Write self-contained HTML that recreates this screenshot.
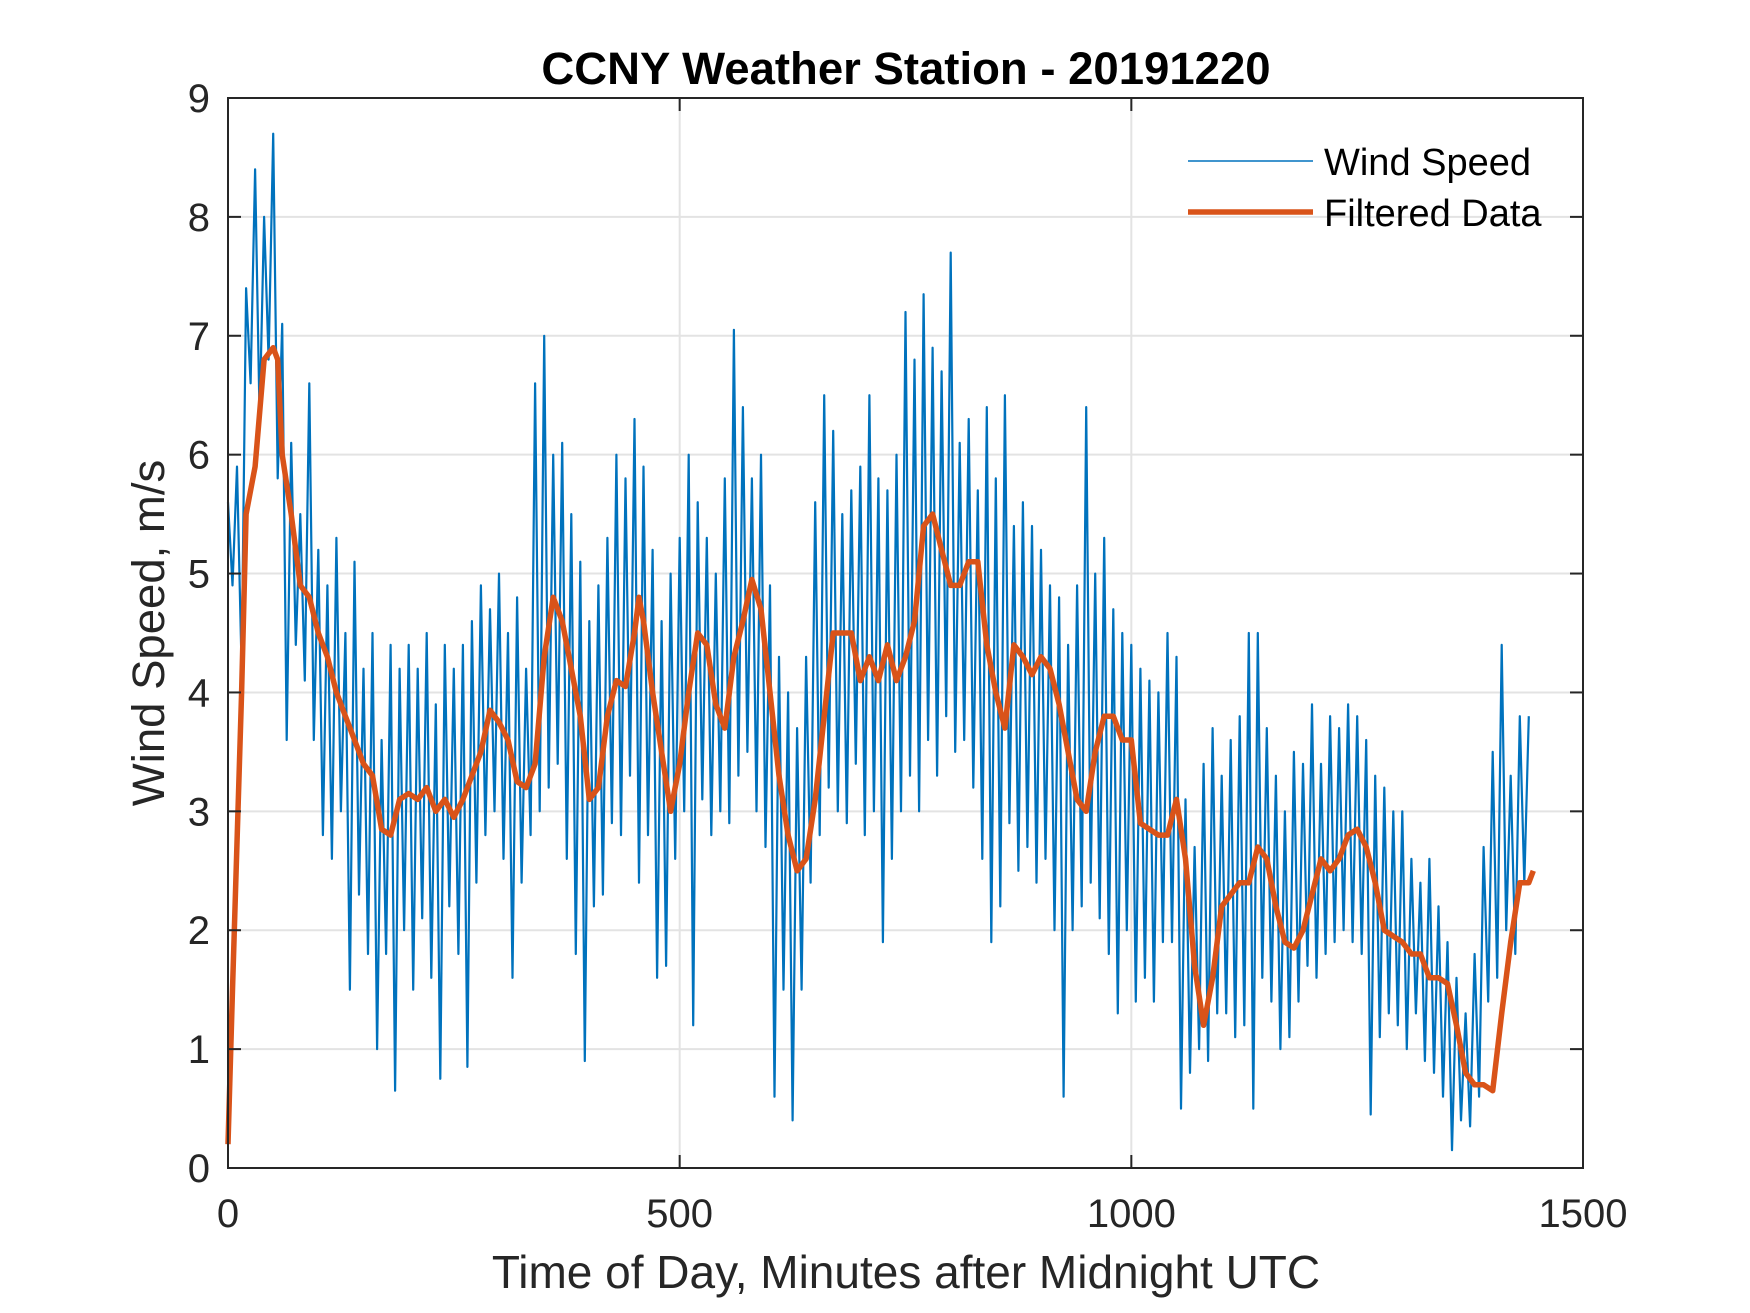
<!DOCTYPE html>
<html><head><meta charset="utf-8"><style>
html,body{margin:0;padding:0;background:#fff}
svg{display:block}
text{font-family:"Liberation Sans",Arial,sans-serif;fill:#262626}
</style></head><body>
<svg id="chart" width="1750" height="1313" viewBox="0 0 1750 1313" xmlns="http://www.w3.org/2000/svg">
<rect x="0" y="0" width="1750" height="1313" fill="#fff"/>
<g id="grid"></g>
<g id="series"></g>
<g id="axes"></g>
<text x="906" y="84" text-anchor="middle" font-size="45.5" font-weight="bold" style="fill:#000">CCNY Weather Station - 20191220</text>
<text x="906" y="1288" text-anchor="middle" font-size="46">Time of Day, Minutes after Midnight UTC</text>
<text transform="translate(164,633) rotate(-90)" text-anchor="middle" font-size="45.5">Wind Speed, m/s</text>
<g>
<line x1="1188" y1="161" x2="1313" y2="161" stroke="#0072BD" stroke-width="1.6"/>
<text x="1324" y="175" font-size="38" style="fill:#000">Wind Speed</text>
<line x1="1188" y1="212" x2="1313" y2="212" stroke="#D95319" stroke-width="5.5"/>
<text x="1324" y="226" font-size="38" style="fill:#000">Filtered Data</text>
</g>
</svg>
<script>
const xTicks=[0,500,1000,1500];
const yTicks=[0,1,2,3,4,5,6,7,8,9];
const rawStep=5;
const rawValues=[
5.6,4.9,5.9,4.2,7.4,6.6,8.4,6.3,8.0,6.8,
8.7,5.8,7.1,3.6,6.1,4.4,5.5,4.1,6.6,3.6,
5.2,2.8,4.9,2.6,5.3,3.0,4.5,1.5,5.1,2.3,
4.2,1.8,4.5,1.0,3.6,1.8,4.4,0.65,4.2,2.0,
4.4,1.5,4.2,2.1,4.5,1.6,3.9,0.75,4.4,2.2,
4.2,1.8,4.4,0.85,4.6,2.4,4.9,2.8,4.7,3.0,
5.0,2.6,4.5,1.6,4.8,2.4,4.2,2.8,6.6,3.0,
7.0,3.2,6.0,3.4,6.1,2.6,5.5,1.8,5.1,0.9,
4.6,2.2,4.9,2.3,5.3,2.9,6.0,2.8,5.8,3.3,
6.3,2.4,5.9,2.8,5.2,1.6,4.6,1.7,5.0,2.6,
5.3,3.0,6.0,1.2,5.6,3.1,5.3,2.8,5.0,3.0,
5.8,2.9,7.05,3.3,6.4,3.5,5.8,3.0,6.0,2.7,
4.9,0.6,4.3,1.5,4.0,0.4,3.7,1.5,4.3,2.4,
5.6,2.8,6.5,3.2,6.2,3.0,5.5,2.9,5.7,3.4,
5.9,2.8,6.5,3.0,5.8,1.9,5.7,2.6,6.0,3.0,
7.2,3.3,6.8,3.0,7.35,3.6,6.9,3.3,6.7,3.8,
7.7,3.5,6.1,3.6,6.3,3.2,5.7,2.6,6.4,1.9,
5.8,2.2,6.5,2.9,5.4,2.5,5.6,2.7,5.4,2.4,
5.2,2.6,4.9,2.0,4.8,0.6,4.4,2.0,4.9,2.2,
6.4,2.4,5.0,2.1,5.3,1.8,4.7,1.3,4.5,2.0,
4.4,1.4,4.2,1.6,4.1,1.4,4.0,1.9,4.5,1.9,
4.3,0.5,3.1,0.8,2.7,1.0,3.4,0.9,3.7,1.3,
3.3,1.3,3.6,1.1,3.8,1.2,4.5,0.5,4.5,1.6,
3.7,1.4,3.3,1.0,3.0,1.1,3.5,1.4,3.4,1.7,
3.9,1.6,3.4,1.8,3.8,1.9,3.7,2.0,3.9,1.9,
3.8,1.8,3.6,0.45,3.3,1.1,3.2,1.3,3.0,1.2,
3.0,1.0,2.6,1.3,2.4,0.9,2.6,0.8,2.2,0.6,
1.9,0.15,1.6,0.4,1.3,0.35,1.8,0.6,2.7,1.4,
3.5,1.6,4.4,2.0,3.3,1.8,3.8,2.4,3.8];
const filtMinutes=[0,5,15,20,30,40,50,55,60,70,80,90,100,110,120,130,140,150,160,170,180,190,200,210,220,230,240,250,260,270,280,290,300,310,320,330,340,350,360,370,380,390,400,410,420,430,440,450,455,460,470,480,490,500,510,520,530,540,550,560,570,580,590,600,610,620,630,640,650,660,670,680,690,700,710,720,730,740,750,760,770,780,790,800,810,820,830,840,850,860,870,880,890,900,910,920,930,940,950,960,970,980,990,1000,1010,1020,1030,1040,1050,1060,1070,1080,1090,1100,1110,1120,1130,1140,1150,1160,1170,1180,1190,1200,1210,1220,1230,1240,1250,1260,1270,1280,1290,1300,1310,1320,1330,1340,1350,1360,1370,1380,1390,1400,1410,1420,1430,1440,1445];
const filtValues=[0.2,1.5,4.0,5.5,5.9,6.8,6.9,6.8,6.0,5.5,4.9,4.8,4.5,4.3,4.0,3.8,3.6,3.4,3.3,2.85,2.8,3.1,3.15,3.1,3.2,3.0,3.1,2.95,3.1,3.3,3.5,3.85,3.75,3.6,3.25,3.2,3.4,4.3,4.8,4.6,4.2,3.8,3.1,3.2,3.8,4.1,4.05,4.5,4.8,4.6,4.0,3.5,3.0,3.4,4.0,4.5,4.4,3.9,3.7,4.3,4.6,4.95,4.7,4.0,3.3,2.8,2.5,2.6,3.1,3.8,4.5,4.5,4.5,4.1,4.3,4.1,4.4,4.1,4.3,4.6,5.4,5.5,5.2,4.9,4.9,5.1,5.1,4.4,4.0,3.7,4.4,4.3,4.15,4.3,4.2,3.9,3.5,3.1,3.0,3.5,3.8,3.8,3.6,3.6,2.9,2.85,2.8,2.8,3.1,2.6,1.7,1.2,1.6,2.2,2.3,2.4,2.4,2.7,2.6,2.2,1.9,1.85,2.0,2.3,2.6,2.5,2.6,2.8,2.85,2.7,2.4,2.0,1.95,1.9,1.8,1.8,1.6,1.6,1.55,1.2,0.8,0.7,0.7,0.65,1.3,1.9,2.4,2.4,2.5];

const L=228,R=1583,T=98,B=1168,XMAX=1500,YMAX=9;
function sx(v){return L+(v/XMAX)*(R-L);}
function sy(v){return B-(v/YMAX)*(B-T);}
const NS='http://www.w3.org/2000/svg';
function mk(tag,attrs,parent){const e=document.createElementNS(NS,tag);for(const k in attrs)e.setAttribute(k,attrs[k]);parent.appendChild(e);return e;}
const grid=document.getElementById('grid'),axes=document.getElementById('axes'),series=document.getElementById('series');
yTicks.forEach(v=>{
  const y=sy(v);
  if(v>0&&v<YMAX){const g=mk('line',{x1:L,x2:R,y1:y,y2:y,stroke:'#e3e3e3','stroke-width':2},grid);
  
  }
  const t1=mk('line',{x1:L,x2:L+13,y1:y,y2:y,stroke:'#262626','stroke-width':2},axes);
  
  
  const t2=mk('line',{x1:R-13,x2:R,y1:y,y2:y,stroke:'#262626','stroke-width':2},axes);
  
  
  const tx=mk('text',{x:210,y:y+14,'text-anchor':'end','font-size':40},axes);
  tx.textContent=v;
  
  
});
xTicks.forEach(v=>{
  const x=sx(v);
  if(v>0&&v<XMAX){const g=mk('line',{x1:x,x2:x,y1:T,y2:B,stroke:'#e3e3e3','stroke-width':2},grid);
  
  }
  const t1=mk('line',{x1:x,x2:x,y1:B,y2:B-13,stroke:'#262626','stroke-width':2},axes);
  
  
  const t2=mk('line',{x1:x,x2:x,y1:T,y2:T+13,stroke:'#262626','stroke-width':2},axes);
  
  
  const tx=mk('text',{x:x,y:1227,'text-anchor':'middle','font-size':40},axes);
  tx.textContent=v;
  
  
});
const box=mk('rect',{x:L,y:T,width:R-L,height:B-T,fill:'none',stroke:'#262626','stroke-width':2},axes);


const rawPts=rawValues.map((v,i)=>sx(i*rawStep).toFixed(1)+','+sy(v).toFixed(1)).join(' ');
const raw=mk('polyline',{points:rawPts,fill:'none',stroke:'#0072BD','stroke-width':2.2,'stroke-linejoin':'round'},series);


const fPts=filtValues.map((v,i)=>sx(filtMinutes[i]).toFixed(1)+','+sy(v).toFixed(1)).join(' ');
const filt=mk('polyline',{points:fPts,fill:'none',stroke:'#D95319','stroke-width':5.5,'stroke-linejoin':'round','stroke-linecap':'butt'},series);


</script>
</body></html>
